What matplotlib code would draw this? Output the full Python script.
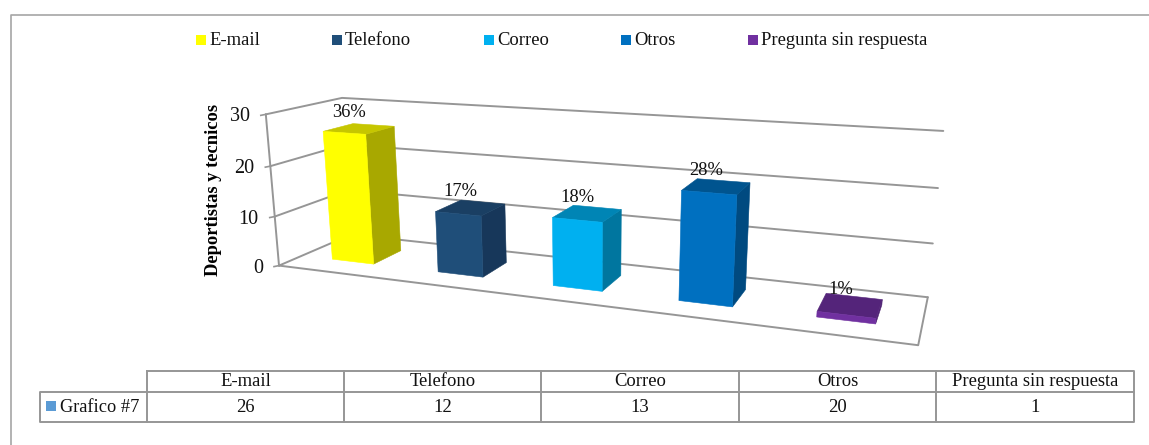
import numpy as np
import matplotlib
matplotlib.use("Agg")
import matplotlib.pyplot as plt
from matplotlib.patches import Polygon, Rectangle

plt.rcParams['font.family'] = ['Liberation Serif', 'DejaVu Serif']

#### data
categories = ['E-mail', 'Telefono', 'Correo', 'Otros', 'Pregunta sin respuesta']
values = [26, 12, 13, 20, 1]
percents = ['36%', '17%', '18%', '28%', '1%']
value_ticks = [0, 10, 20, 30]
series_name = 'Grafico #7'
axis_title = 'Deportistas y tecnicos'

front_colors = ['#FFFF00', '#1F4E79', '#00B0F0', '#0070C0', '#7030A0']
side_colors = ['#A8A800', '#17375A', '#00769F', '#004A80', '#4E2272']
top_colors = ['#C6C600', '#1A3F63', '#0085B5', '#00548F', '#54247A']
legend_x = [196, 332, 484, 621, 748]
table_x = [147, 344, 541, 739, 936, 1134]

GREY = '#969696'
W, H = 1149, 445
BAR_W = 0.40
D0, D1 = 0.30, 0.71

#### projection of the 3d box (category, depth, value) onto the picture
# anchors measured on the walls: (x, depth, value) -> (px, py)
anchors = [
    ((0, 0, 0), (280, 265)), ((0, 0, 10), (275, 217)), ((0, 0, 20), (270, 166)),
    ((0, 0, 30), (265, 114)), ((0, 1, 30), (343, 98)), ((0, 1, 0), (350, 235)),
    ((5, 1, 30), (943, 131)), ((5, 1, 20), (938, 188)), ((5, 1, 10), (933, 244)),
    ((5, 1, 0), (928, 296)), ((5, 0, 0), (918, 346)),
]

def fit_camera(pairs):
    """ Least squares 3x4 camera matrix from point pairs """
    rows = []
    for (x, d, v), (u, w) in pairs:
        p = [x, d, v, 1]
        rows.append(p + [0, 0, 0, 0] + [-u*c for c in p])
        rows.append([0, 0, 0, 0] + p + [-w*c for c in p])
    return np.linalg.svd(np.array(rows, float))[2][-1].reshape(3, 4)

CAM = fit_camera(anchors)

def project(x, d, v):
    q = CAM @ np.array([x, d, v, 1.0])
    return q[0]/q[2], q[1]/q[2]

fig = plt.figure(figsize=(W/100, H/100), dpi=100)
ax = fig.add_axes([0, 0, 1, 1])
ax.set_xlim(0, W)
ax.set_ylim(H, 0)
ax.axis('off')

# outer frame
ax.plot([W, 11, 11], [15, 15, H], color='#A6A6A6', lw=1.2)

def wire(points, lw=1.4):
    xy = np.array([project(*p) for p in points])
    ax.plot(xy[:, 0], xy[:, 1], color=GREY, lw=lw, solid_capstyle='round')

# walls and floor
for v in value_ticks:
    wire([(0, 0, v), (0, 1, v), (5, 1, v)])
wire([(0, 0, 0), (0, 0, 30)])
wire([(5, 1, 0), (5, 0, 0), (0, 0, 0)])

# ticks
for v in value_ticks:
    px, py = project(0, 0, v)
    ax.plot([px-5, px], [py+1, py], color=GREY, lw=1.2)
    ax.text(px-16, py+2.5, str(v), ha='right', va='center', fontsize=14.5, color='#111111')
ax.text(214, 190, axis_title, rotation=90, ha='center', va='center',
        fontsize=13.3, fontweight='bold')

# bars
for i, val in enumerate(values):
    x0, x1 = i + .5 - BAR_W/2, i + .5 + BAR_W/2
    front = [(x0, D0, 0), (x1, D0, 0), (x1, D0, val), (x0, D0, val)]
    side = [(x1, D0, 0), (x1, D1, 0), (x1, D1, val), (x1, D0, val)]
    top = [(x0, D0, val), (x1, D0, val), (x1, D1, val), (x0, D1, val)]
    for face, col in ((side, side_colors[i]), (top, top_colors[i]), (front, front_colors[i])):
        ax.add_patch(Polygon([project(*p) for p in face], closed=True, fc=col, ec=col, lw=.4, zorder=3))
    px, py = project(i + .5, (D0 + D1)/2, val)
    ax.text(px-10, py-16, percents[i], ha='center', va='center', fontsize=13.3, color='#111111', zorder=4)

# legend
for x, name, col in zip(legend_x, categories, front_colors):
    ax.add_patch(Rectangle((x, 35), 10, 10, fc=col, ec='none'))
    ax.text(x+13, 40.5, name, ha='left', va='center', fontsize=13.4, color='#111111')

# data table
ax.plot([table_x[0], table_x[-1], table_x[-1], 40, 40, table_x[-1]],
        [371, 371, 422, 422, 392, 392], color=GREY, lw=1.4)
for x in table_x[:-1]:
    ax.plot([x, x], [371, 422], color=GREY, lw=1.4)
for i, (name, val) in enumerate(zip(categories, values)):
    xc = (table_x[i] + table_x[i+1]) / 2
    ax.text(xc, 382, name, ha='center', va='center', fontsize=13.4, color='#111111')
    ax.text(xc, 407, str(val), ha='center', va='center', fontsize=13.4, color='#111111')
ax.add_patch(Rectangle((46, 401), 10, 10, fc='#5B9BD5', ec='none'))
ax.text(60, 407, series_name, ha='left', va='center', fontsize=13.2, color='#111111')

fig.savefig('out.png', dpi=100)
